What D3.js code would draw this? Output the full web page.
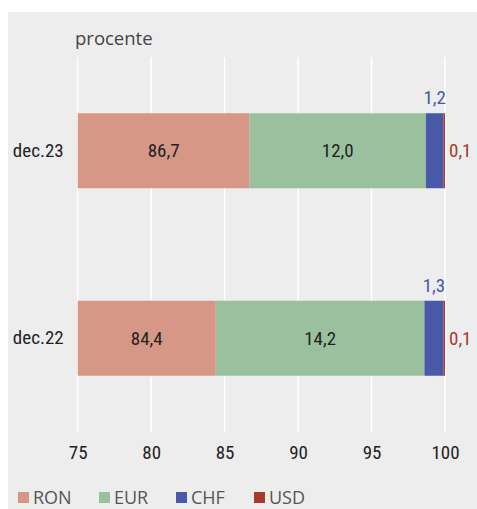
<!DOCTYPE html>
<html><head><meta charset="utf-8">
<script src="https://cdn.jsdelivr.net/npm/d3@7"></script>
<style>
body{margin:0;background:#fff;}
.cond{font-family:"Roboto Condensed","DejaVu Sans Condensed",sans-serif;}
.reg{font-family:"Open Sans","Noto Sans",sans-serif;}
</style></head>
<body><svg id="c" width="477" height="509"></svg>
<script>
const categories = ["dec.23", "dec.22"];
const seriesNames = ["RON", "EUR", "CHF", "USD"];
const RON = [86.7, 84.4];
const EUR = [12.0, 14.2];
const CHF = [1.2, 1.3];
const USD = [0.1, 0.1];
const tickValues = [75, 80, 85, 90, 95, 100];
const colors = ["#d79787", "#9bc09d", "#4a58a8", "#a8392b"];
const unitLabel = "procente";

const svg = d3.select("#c");
svg.append("rect").attr("x", 8).attr("y", 12).attr("width", 469).attr("height", 497).attr("fill", "#ededed");

const x = d3.scaleLinear().domain([75, 100]).range([77.7, 445]);
const y = d3.scaleBand().domain(categories).range([57, 432]).padding(0.6).paddingOuter(0.3);

const fmt = v => d3.format(".1f")(v).replace(".", ",");

// gridlines
svg.append("g").selectAll("line").data(tickValues).join("line")
  .attr("x1", d => x(d)).attr("x2", d => x(d))
  .attr("y1", 57).attr("y2", 432)
  .attr("stroke", "#ffffff").attr("stroke-width", 1.5);

// unit label
svg.append("text").attr("class", "reg").attr("x", 75).attr("y", 45)
  .attr("font-size", 18.5).attr("fill", "#444").text(unitLabel);

// axis
const axis = svg.append("g").attr("transform", "translate(0,432)")
  .call(d3.axisBottom(x).tickValues(tickValues).tickSize(0).tickPadding(14).tickFormat(d3.format("d")));
axis.select(".domain").remove();
axis.selectAll("text").attr("class", "cond").attr("font-size", 19).attr("fill", "#222");

// category labels
const yAxis = svg.append("g").attr("transform", "translate(77.7,0)")
  .call(d3.axisLeft(y).tickSize(0).tickPadding(14));
yAxis.select(".domain").remove();
yAxis.selectAll("text").attr("class", "cond").attr("font-size", 19).attr("fill", "#222");

// stacks
const rows = categories.map((c, i) => ({cat: c, RON: RON[i], EUR: EUR[i], CHF: CHF[i], USD: USD[i]}));
const stack = d3.stack().keys(seriesNames)(rows);
const lo = x.domain()[0];
const x0 = d => Math.max(d[0], lo);

stack.forEach((s, si) => {
  svg.append("g").selectAll("rect").data(s).join("rect")
    .attr("x", d => x(x0(d)))
    .attr("width", d => x(d[1]) - x(x0(d)))
    .attr("y", d => y(d.data.cat))
    .attr("height", y.bandwidth())
    .attr("fill", colors[si]);
});

// value labels
const yc = d => y(d.data.cat) + y.bandwidth() / 2;
[0, 1].forEach(si => {
  svg.append("g").selectAll("text").data(stack[si]).join("text")
    .attr("class", "cond")
    .attr("x", d => (x(x0(d)) + x(d[1])) / 2)
    .attr("y", yc).attr("dy", "0.35em")
    .attr("text-anchor", "middle").attr("font-size", 19).attr("fill", "#222")
    .text(d => fmt(d[1] - d[0]));
});
svg.append("g").selectAll("text").data(stack[2]).join("text")
  .attr("class", "cond")
  .attr("x", d => (x(d[0]) + x(d[1])) / 2)
  .attr("y", d => y(d.data.cat) - 9)
  .attr("text-anchor", "middle").attr("font-size", 19).attr("fill", colors[2])
  .text(d => fmt(d[1] - d[0]));
svg.append("g").selectAll("text").data(stack[3]).join("text")
  .attr("class", "cond")
  .attr("x", d => x(d[1]) + 4)
  .attr("y", yc).attr("dy", "0.35em")
  .attr("text-anchor", "start").attr("font-size", 19).attr("fill", colors[3])
  .text(d => fmt(d[1] - d[0]));

// legend
const legX = [18, 99, 176, 254];
const leg = svg.append("g").selectAll("g").data(seriesNames).join("g")
  .attr("transform", (d, i) => `translate(${legX[i]},492)`);
leg.append("rect").attr("width", 11).attr("height", 11).attr("fill", (d, i) => colors[i]);
leg.append("text").attr("class", "reg").attr("x", 15).attr("y", 11.5)
  .attr("font-size", 18).attr("fill", "#555").text(d => d);
</script>
</body></html>
